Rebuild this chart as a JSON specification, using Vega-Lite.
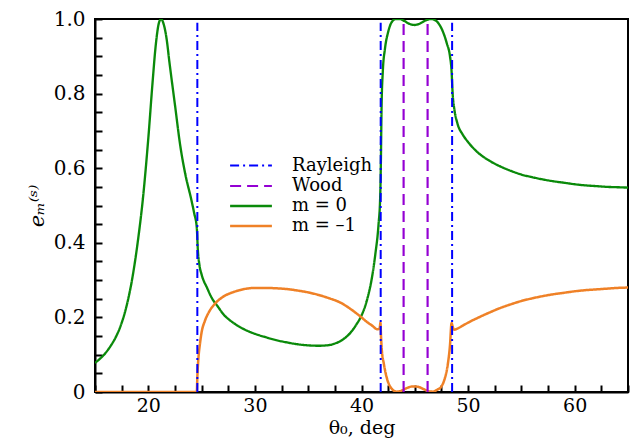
{
  "$schema": "https://vega.github.io/schema/vega-lite/v6.json",
  "width": 533,
  "height": 373,
  "autosize": "none",
  "padding": {"left": 95, "top": 19, "right": 5, "bottom": 56},
  "config": {
    "view": {"stroke": "black", "strokeWidth": 2}
  },
  "data": {"values": [
      {"series": "m =  0", "id": "g", "x": 15, "y": 0.078},
      {"series": "m =  0", "id": "g", "x": 15.5, "y": 0.09},
      {"series": "m =  0", "id": "g", "x": 16, "y": 0.105},
      {"series": "m =  0", "id": "g", "x": 16.5, "y": 0.125},
      {"series": "m =  0", "id": "g", "x": 17, "y": 0.15},
      {"series": "m =  0", "id": "g", "x": 17.5, "y": 0.185},
      {"series": "m =  0", "id": "g", "x": 18, "y": 0.235},
      {"series": "m =  0", "id": "g", "x": 18.5, "y": 0.305},
      {"series": "m =  0", "id": "g", "x": 19, "y": 0.4},
      {"series": "m =  0", "id": "g", "x": 19.5, "y": 0.52},
      {"series": "m =  0", "id": "g", "x": 20, "y": 0.68},
      {"series": "m =  0", "id": "g", "x": 20.4, "y": 0.83},
      {"series": "m =  0", "id": "g", "x": 20.7, "y": 0.93},
      {"series": "m =  0", "id": "g", "x": 21, "y": 0.99},
      {"series": "m =  0", "id": "g", "x": 21.2, "y": 1.0},
      {"series": "m =  0", "id": "g", "x": 21.4, "y": 0.99},
      {"series": "m =  0", "id": "g", "x": 21.7, "y": 0.95},
      {"series": "m =  0", "id": "g", "x": 22, "y": 0.88},
      {"series": "m =  0", "id": "g", "x": 22.5, "y": 0.77},
      {"series": "m =  0", "id": "g", "x": 23, "y": 0.66},
      {"series": "m =  0", "id": "g", "x": 23.5, "y": 0.58},
      {"series": "m =  0", "id": "g", "x": 24, "y": 0.52},
      {"series": "m =  0", "id": "g", "x": 24.3, "y": 0.48},
      {"series": "m =  0", "id": "g", "x": 24.55, "y": 0.44},
      {"series": "m =  0", "id": "g", "x": 24.65, "y": 0.38},
      {"series": "m =  0", "id": "g", "x": 24.8, "y": 0.34},
      {"series": "m =  0", "id": "g", "x": 25, "y": 0.315},
      {"series": "m =  0", "id": "g", "x": 25.5, "y": 0.28},
      {"series": "m =  0", "id": "g", "x": 26, "y": 0.25},
      {"series": "m =  0", "id": "g", "x": 26.5, "y": 0.23},
      {"series": "m =  0", "id": "g", "x": 27, "y": 0.21},
      {"series": "m =  0", "id": "g", "x": 28, "y": 0.185},
      {"series": "m =  0", "id": "g", "x": 29, "y": 0.168},
      {"series": "m =  0", "id": "g", "x": 30, "y": 0.156},
      {"series": "m =  0", "id": "g", "x": 31, "y": 0.147},
      {"series": "m =  0", "id": "g", "x": 32, "y": 0.139},
      {"series": "m =  0", "id": "g", "x": 33, "y": 0.133},
      {"series": "m =  0", "id": "g", "x": 34, "y": 0.128},
      {"series": "m =  0", "id": "g", "x": 35, "y": 0.125},
      {"series": "m =  0", "id": "g", "x": 36, "y": 0.124},
      {"series": "m =  0", "id": "g", "x": 37, "y": 0.126},
      {"series": "m =  0", "id": "g", "x": 37.5, "y": 0.13},
      {"series": "m =  0", "id": "g", "x": 38, "y": 0.136},
      {"series": "m =  0", "id": "g", "x": 38.5, "y": 0.146},
      {"series": "m =  0", "id": "g", "x": 39, "y": 0.16},
      {"series": "m =  0", "id": "g", "x": 39.5, "y": 0.18},
      {"series": "m =  0", "id": "g", "x": 40, "y": 0.205},
      {"series": "m =  0", "id": "g", "x": 40.5, "y": 0.245},
      {"series": "m =  0", "id": "g", "x": 41, "y": 0.31},
      {"series": "m =  0", "id": "g", "x": 41.3, "y": 0.37},
      {"series": "m =  0", "id": "g", "x": 41.6, "y": 0.45},
      {"series": "m =  0", "id": "g", "x": 41.75, "y": 0.52},
      {"series": "m =  0", "id": "g", "x": 41.82, "y": 0.62},
      {"series": "m =  0", "id": "g", "x": 41.88, "y": 0.76},
      {"series": "m =  0", "id": "g", "x": 42, "y": 0.86},
      {"series": "m =  0", "id": "g", "x": 42.2, "y": 0.92},
      {"series": "m =  0", "id": "g", "x": 42.5, "y": 0.965},
      {"series": "m =  0", "id": "g", "x": 42.8, "y": 0.99},
      {"series": "m =  0", "id": "g", "x": 43.2, "y": 1.0},
      {"series": "m =  0", "id": "g", "x": 43.6, "y": 1.0},
      {"series": "m =  0", "id": "g", "x": 44, "y": 0.995},
      {"series": "m =  0", "id": "g", "x": 44.5, "y": 0.987},
      {"series": "m =  0", "id": "g", "x": 45, "y": 0.984},
      {"series": "m =  0", "id": "g", "x": 45.5, "y": 0.988},
      {"series": "m =  0", "id": "g", "x": 46, "y": 0.996},
      {"series": "m =  0", "id": "g", "x": 46.5, "y": 1.0},
      {"series": "m =  0", "id": "g", "x": 47, "y": 0.995},
      {"series": "m =  0", "id": "g", "x": 47.5, "y": 0.975},
      {"series": "m =  0", "id": "g", "x": 48, "y": 0.935},
      {"series": "m =  0", "id": "g", "x": 48.3, "y": 0.9},
      {"series": "m =  0", "id": "g", "x": 48.45, "y": 0.86},
      {"series": "m =  0", "id": "g", "x": 48.55, "y": 0.8},
      {"series": "m =  0", "id": "g", "x": 48.7, "y": 0.76},
      {"series": "m =  0", "id": "g", "x": 49, "y": 0.72},
      {"series": "m =  0", "id": "g", "x": 49.5, "y": 0.69},
      {"series": "m =  0", "id": "g", "x": 50, "y": 0.67},
      {"series": "m =  0", "id": "g", "x": 51, "y": 0.64},
      {"series": "m =  0", "id": "g", "x": 52, "y": 0.62},
      {"series": "m =  0", "id": "g", "x": 53, "y": 0.605},
      {"series": "m =  0", "id": "g", "x": 54, "y": 0.593},
      {"series": "m =  0", "id": "g", "x": 55, "y": 0.583},
      {"series": "m =  0", "id": "g", "x": 56, "y": 0.576},
      {"series": "m =  0", "id": "g", "x": 57, "y": 0.57},
      {"series": "m =  0", "id": "g", "x": 58, "y": 0.565},
      {"series": "m =  0", "id": "g", "x": 59, "y": 0.561},
      {"series": "m =  0", "id": "g", "x": 60, "y": 0.557},
      {"series": "m =  0", "id": "g", "x": 61, "y": 0.554},
      {"series": "m =  0", "id": "g", "x": 62, "y": 0.552},
      {"series": "m =  0", "id": "g", "x": 63, "y": 0.55},
      {"series": "m =  0", "id": "g", "x": 64, "y": 0.549},
      {"series": "m =  0", "id": "g", "x": 65, "y": 0.548},
      {"series": "m = -1", "id": "o", "x": 15, "y": 0},
      {"series": "m = -1", "id": "o", "x": 24.55, "y": 0},
      {"series": "m = -1", "id": "o", "x": 24.6, "y": 0.04},
      {"series": "m = -1", "id": "o", "x": 24.7, "y": 0.09},
      {"series": "m = -1", "id": "o", "x": 24.85, "y": 0.13},
      {"series": "m = -1", "id": "o", "x": 25, "y": 0.16},
      {"series": "m = -1", "id": "o", "x": 25.3, "y": 0.19},
      {"series": "m = -1", "id": "o", "x": 25.7, "y": 0.215},
      {"series": "m = -1", "id": "o", "x": 26.2, "y": 0.235},
      {"series": "m = -1", "id": "o", "x": 27, "y": 0.255},
      {"series": "m = -1", "id": "o", "x": 28, "y": 0.268},
      {"series": "m = -1", "id": "o", "x": 29, "y": 0.276},
      {"series": "m = -1", "id": "o", "x": 30, "y": 0.279},
      {"series": "m = -1", "id": "o", "x": 31, "y": 0.279},
      {"series": "m = -1", "id": "o", "x": 32, "y": 0.278},
      {"series": "m = -1", "id": "o", "x": 33, "y": 0.276},
      {"series": "m = -1", "id": "o", "x": 34, "y": 0.272},
      {"series": "m = -1", "id": "o", "x": 35, "y": 0.267},
      {"series": "m = -1", "id": "o", "x": 36, "y": 0.26},
      {"series": "m = -1", "id": "o", "x": 37, "y": 0.251},
      {"series": "m = -1", "id": "o", "x": 38, "y": 0.24},
      {"series": "m = -1", "id": "o", "x": 39, "y": 0.222},
      {"series": "m = -1", "id": "o", "x": 40, "y": 0.2},
      {"series": "m = -1", "id": "o", "x": 40.5, "y": 0.188},
      {"series": "m = -1", "id": "o", "x": 41, "y": 0.178},
      {"series": "m = -1", "id": "o", "x": 41.5, "y": 0.168},
      {"series": "m = -1", "id": "o", "x": 41.7, "y": 0.17},
      {"series": "m = -1", "id": "o", "x": 41.78, "y": 0.186},
      {"series": "m = -1", "id": "o", "x": 41.83, "y": 0.15},
      {"series": "m = -1", "id": "o", "x": 41.9, "y": 0.115},
      {"series": "m = -1", "id": "o", "x": 42.1, "y": 0.075},
      {"series": "m = -1", "id": "o", "x": 42.4, "y": 0.035},
      {"series": "m = -1", "id": "o", "x": 42.8, "y": 0.01},
      {"series": "m = -1", "id": "o", "x": 43.3, "y": 0.001},
      {"series": "m = -1", "id": "o", "x": 43.7, "y": 0.003},
      {"series": "m = -1", "id": "o", "x": 44.2, "y": 0.01},
      {"series": "m = -1", "id": "o", "x": 44.8, "y": 0.015},
      {"series": "m = -1", "id": "o", "x": 45.3, "y": 0.014},
      {"series": "m = -1", "id": "o", "x": 45.8, "y": 0.008},
      {"series": "m = -1", "id": "o", "x": 46.3, "y": 0.002},
      {"series": "m = -1", "id": "o", "x": 46.7, "y": 0.001},
      {"series": "m = -1", "id": "o", "x": 47.1, "y": 0.006},
      {"series": "m = -1", "id": "o", "x": 47.5, "y": 0.015},
      {"series": "m = -1", "id": "o", "x": 47.8, "y": 0.035},
      {"series": "m = -1", "id": "o", "x": 48.1, "y": 0.075},
      {"series": "m = -1", "id": "o", "x": 48.3, "y": 0.125},
      {"series": "m = -1", "id": "o", "x": 48.45, "y": 0.185},
      {"series": "m = -1", "id": "o", "x": 48.55, "y": 0.175},
      {"series": "m = -1", "id": "o", "x": 48.7, "y": 0.167},
      {"series": "m = -1", "id": "o", "x": 49, "y": 0.17},
      {"series": "m = -1", "id": "o", "x": 49.5, "y": 0.178},
      {"series": "m = -1", "id": "o", "x": 50, "y": 0.186},
      {"series": "m = -1", "id": "o", "x": 51, "y": 0.2},
      {"series": "m = -1", "id": "o", "x": 52, "y": 0.213},
      {"series": "m = -1", "id": "o", "x": 53, "y": 0.225},
      {"series": "m = -1", "id": "o", "x": 54, "y": 0.235},
      {"series": "m = -1", "id": "o", "x": 55, "y": 0.244},
      {"series": "m = -1", "id": "o", "x": 56, "y": 0.251},
      {"series": "m = -1", "id": "o", "x": 57, "y": 0.257},
      {"series": "m = -1", "id": "o", "x": 58, "y": 0.262},
      {"series": "m = -1", "id": "o", "x": 59, "y": 0.266},
      {"series": "m = -1", "id": "o", "x": 60, "y": 0.27},
      {"series": "m = -1", "id": "o", "x": 61, "y": 0.273},
      {"series": "m = -1", "id": "o", "x": 62, "y": 0.275},
      {"series": "m = -1", "id": "o", "x": 63, "y": 0.277},
      {"series": "m = -1", "id": "o", "x": 64, "y": 0.279},
      {"series": "m = -1", "id": "o", "x": 65, "y": 0.28},
      {"series": "Rayleigh", "id": "r1", "x": 24.6, "y": 0},
      {"series": "Rayleigh", "id": "r1", "x": 24.6, "y": 0.99},
      {"series": "Rayleigh", "id": "r2", "x": 41.8, "y": 0},
      {"series": "Rayleigh", "id": "r2", "x": 41.8, "y": 0.99},
      {"series": "Rayleigh", "id": "r3", "x": 48.5, "y": 0},
      {"series": "Rayleigh", "id": "r3", "x": 48.5, "y": 0.99},
      {"series": "Wood", "id": "w1", "x": 43.95, "y": 0},
      {"series": "Wood", "id": "w1", "x": 43.95, "y": 0.99},
      {"series": "Wood", "id": "w2", "x": 46.2, "y": 0},
      {"series": "Wood", "id": "w2", "x": 46.2, "y": 0.99}
  ]},
  "mark": {"type": "line", "interpolate": "monotone", "clip": true},
  "encoding": {
    "x": {
      "field": "x", "type": "quantitative",
      "scale": {"domain": [15, 65], "nice": false, "zero": false},
      "axis": {
        "title": "θ₀, deg",
        "titleFont": "DejaVu Serif", "titleFontSize": 19, "titleFontWeight": "normal", "titleColor": "black",
        "titlePadding": 3,
        "values": [15, 17.5, 20, 22.5, 25, 27.5, 30, 32.5, 35, 37.5, 40, 42.5, 45, 47.5, 50, 52.5, 55, 57.5, 60, 62.5, 65],
        "labelExpr": "datum.value % 10 == 0 && datum.value > 15 && datum.value < 65 ? format(datum.value, 'd') : ''",
        "labelFont": "DejaVu Serif", "labelFontSize": 19, "labelColor": "black",
        "labelPadding": 11,
        "tickSize": -7, "tickColor": "black", "tickWidth": 2,
        "domainColor": "black", "domainWidth": 2, "grid": false
      }
    },
    "y": {
      "field": "y", "type": "quantitative",
      "scale": {"domain": [0, 1], "nice": false},
      "axis": {
        "title": "eₘ⁽ˢ⁾",
        "titleFont": "DejaVu Serif", "titleFontSize": 21, "titleFontWeight": "normal", "titleFontStyle": "italic", "titleColor": "black",
        "titlePadding": 6,
        "values": [0, 0.05, 0.1, 0.15, 0.2, 0.25, 0.3, 0.35, 0.4, 0.45, 0.5, 0.55, 0.6, 0.65, 0.7, 0.75, 0.8, 0.85, 0.9, 0.95, 1],
        "labelExpr": "datum.value == 0 ? '0' : (abs(datum.value * 5 - round(datum.value * 5)) < 0.001 ? format(datum.value, '.1f') : '')",
        "labelFont": "DejaVu Serif", "labelFontSize": 20, "labelColor": "black",
        "labelPadding": 17,
        "tickSize": -7, "tickColor": "black", "tickWidth": 2,
        "domainColor": "black", "domainWidth": 2, "grid": false
      }
    },
    "detail": {"field": "id"},
    "color": {
      "field": "series", "type": "nominal",
      "scale": {"domain": ["Rayleigh", "Wood", "m =  0", "m = -1"], "range": ["#0000ff", "#9400d3", "#0a8a0a", "#ef8127"]},
      "legend": {
        "title": null, "orient": "none", "legendX": 145, "legendY": 136,
        "symbolType": "M-2.2,0H2.2", "symbolSize": 361, "symbolStrokeWidth": 3,
        "labelFont": "DejaVu Serif", "labelFontSize": 18, "labelColor": "black",
        "labelExpr": "datum.label == 'm = -1' ? 'm = –1' : datum.label",
        "labelOffset": 30, "rowPadding": 0, "symbolOpacity": 1
      }
    },
    "strokeDash": {
      "field": "series", "type": "nominal",
      "scale": {"domain": ["Rayleigh", "Wood", "m =  0", "m = -1"], "range": [[9, 4, 2, 4], [11, 6], [1, 0], [1, 0]]},
      "legend": {"title": null}
    },
    "strokeWidth": {
      "field": "series", "type": "nominal",
      "scale": {"domain": ["Rayleigh", "Wood", "m =  0", "m = -1"], "range": [2, 2.5, 2, 2]},
      "legend": {"title": null}
    }
  }
}
